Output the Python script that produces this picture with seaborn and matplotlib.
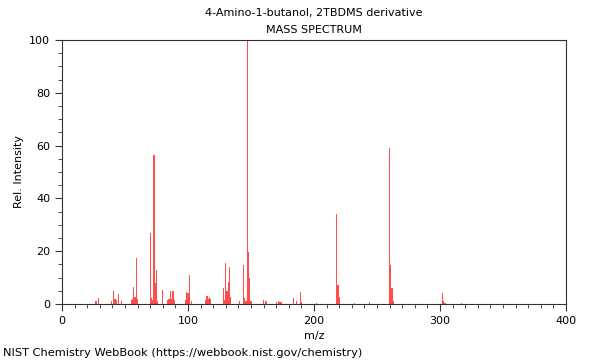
import matplotlib
matplotlib.use("Agg")
import matplotlib.pyplot as plt
import seaborn as sns
from matplotlib.ticker import MultipleLocator

# m/z values and relative intensities
mz = [27, 29, 39, 41, 42, 43, 45, 47, 55, 56, 57, 58, 59, 60,
      70, 71, 72, 73, 74, 75, 76, 80, 84, 85, 86, 87, 88, 89,
      98, 99, 100, 101, 103, 114, 115, 116, 117, 118,
      128, 129, 130, 131, 132, 133, 134, 141, 144, 145, 146,
      147, 148, 149, 150, 160, 162, 170, 172, 173, 174,
      184, 186, 189, 190, 202, 218, 219, 220, 232, 244,
      260, 261, 262, 263, 302, 303, 304, 317]
rel_int = [1.0, 2.2, 1.2, 4.9, 2.0, 1.7, 3.8, 1.2, 1.5, 2.0, 6.6, 2.5, 17.3, 2.0,
           26.8, 2.1, 1.5, 56.3, 7.8, 12.9, 1.0, 5.2, 1.5, 2.0, 5.0, 2.0, 4.8, 1.5,
           1.5, 4.7, 4.0, 11.0, 1.0, 1.5, 3.0, 2.0, 2.8, 2.0,
           6.0, 1.5, 15.4, 5.0, 8.5, 14.0, 2.8, 1.0, 14.8, 2.3, 1.0,
           100.0, 19.8, 10.0, 1.0, 1.5, 1.0, 0.8, 1.0, 0.8, 0.8,
           2.1, 1.3, 4.4, 0.8, 0.5, 34.0, 7.2, 2.8, 0.5, 0.8,
           59.0, 14.8, 6.2, 1.2, 4.0, 1.2, 0.5, 0.3]

title = "4-Amino-1-butanol, 2TBDMS derivative"
subtitle = "MASS SPECTRUM"
footer = "NIST Chemistry WebBook (https://webbook.nist.gov/chemistry)"

sns.set_style("ticks")
plt.rcParams['font.family'] = ['DejaVu Sans']
plt.rcParams['text.color'] = 'black'
plt.rcParams['axes.labelcolor'] = 'black'

fig = plt.figure(figsize=(6, 3.6), dpi=100)
ax = fig.add_axes([62 / 600, 1 - 304 / 360, 504 / 600, 264 / 360])

sns.histplot(x=mz, weights=rel_int, discrete=True, color="#ff0000",
             alpha=0.7, linewidth=0, ax=ax)

ax.set_xlim(0, 400)
ax.set_ylim(0, 100)
ax.xaxis.set_major_locator(MultipleLocator(100))
ax.xaxis.set_minor_locator(MultipleLocator(10))
ax.yaxis.set_major_locator(MultipleLocator(20))
ax.yaxis.set_minor_locator(MultipleLocator(5))
ax.tick_params(which="major", direction="out", length=5, width=0.8,
               labelsize=8, colors="#333333", labelcolor="black")
ax.tick_params(which="minor", direction="out", length=3, width=0.6,
               colors="#333333")
for s in ax.spines.values():
    s.set_visible(True)
    s.set_color("#333333")
    s.set_linewidth(0.8)

ax.set_xlabel("m/z", fontsize=8)
ax.set_ylabel("Rel. Intensity", fontsize=8)

fig.text(314 / 600, 1 - 13 / 360, title, ha="center", va="center", fontsize=8)
fig.text(314 / 600, 1 - 30 / 360, subtitle, ha="center", va="center", fontsize=8)
fig.text(3 / 600, 1 - 353 / 360, footer, ha="left", va="center", fontsize=8.2)

fig.savefig("out.png", dpi=100)
